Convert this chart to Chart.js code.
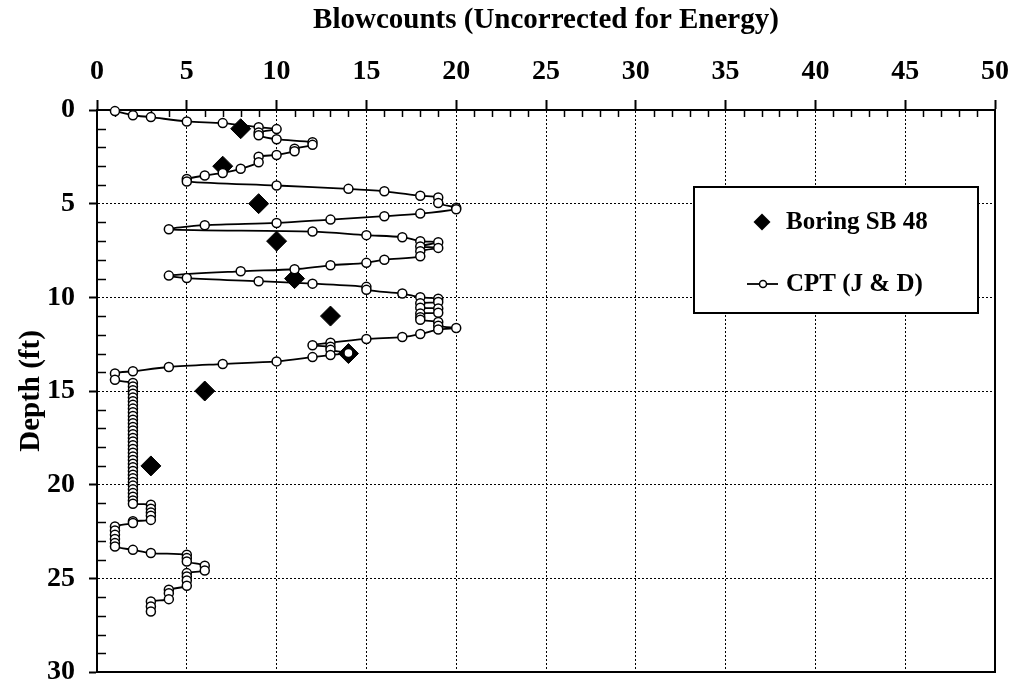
<!DOCTYPE html>
<html>
<head>
<meta charset="utf-8">
<script src="https://cdn.jsdelivr.net/npm/chart.js@4.4.1/dist/chart.umd.min.js"></script>
<style>
  html, body { margin: 0; padding: 0; background: #fff; }
  #c { display: block; }
</style>
</head>
<body>
<canvas id="c" width="1013" height="687" style="width:1013px;height:687px"></canvas>
<script>
// ---------------- DATA ----------------
const xTitle = 'Blowcounts (Uncorrected for Energy)';
const yTitle = 'Depth (ft)';
const boringLabel = 'Boring SB 48';
const cptLabel = 'CPT (J & D)';

const boringBlows = [8, 7, 9, 10, 11, 13, 14, 6, 3];
const boringDepth = [1, 3, 5, 7, 9, 11, 13, 15, 19];

const cptBlows = [
  1, 2, 3, 5, 7, 9, 10, 9, 9, 10,
  12, 12, 11, 11, 10, 9, 9, 8, 7, 6,
  5, 5, 10, 14, 16, 18, 19, 19, 20, 20,
  18, 16, 13, 10, 6, 4, 12, 15, 17, 18,
  19, 18, 19, 18, 18, 16, 15, 13, 11, 8,
  4, 5, 9, 12, 15, 15, 17, 18, 19, 19,
  18, 18, 19, 19, 18, 18, 18, 19, 19, 20,
  19, 18, 17, 15, 13, 12, 13, 13, 14, 13,
  12, 10, 7, 4, 2, 1, 1,
  2, 2, 2, 2, 2, 2, 2, 2, 2, 2,
  2, 2, 2, 2, 2, 2, 2, 2, 2, 2,
  2, 2, 2, 2, 2, 2, 2, 2, 2, 2,
  2, 2, 2, 2,
  3, 3, 3, 3, 3, 2, 2,
  1, 1, 1, 1, 1, 1,
  2, 3, 5, 5, 5, 6, 6,
  5, 5, 5, 5, 4, 4, 4, 3, 3, 3
];
const cptDepth = [
  0.06, 0.28, 0.38, 0.61, 0.70, 0.92, 1.02, 1.20, 1.35, 1.56,
  1.72, 1.86, 2.07, 2.20, 2.40, 2.50, 2.79, 3.14, 3.36, 3.50,
  3.68, 3.82, 4.03, 4.21, 4.34, 4.58, 4.67, 4.96, 5.22, 5.30,
  5.53, 5.67, 5.85, 6.03, 6.15, 6.37, 6.49, 6.68, 6.79, 7.00,
  7.06, 7.28, 7.36, 7.54, 7.81, 7.99, 8.16, 8.29, 8.50, 8.61,
  8.84, 8.97, 9.14, 9.27, 9.44, 9.60, 9.80, 10.00, 10.07, 10.25,
  10.32, 10.55, 10.60, 10.82, 10.86, 11.06, 11.20, 11.32, 11.52, 11.64,
  11.72, 11.96, 12.12, 12.22, 12.42, 12.56, 12.64, 12.80, 12.97, 13.08,
  13.19, 13.42, 13.56, 13.72, 13.95, 14.06, 14.40,
  14.57, 14.76, 14.96, 15.15, 15.35, 15.55, 15.74, 15.94, 16.13, 16.33,
  16.53, 16.72, 16.92, 17.11, 17.31, 17.51, 17.70, 17.90, 18.09, 18.29,
  18.49, 18.68, 18.88, 19.07, 19.27, 19.47, 19.66, 19.86, 20.05, 20.25,
  20.45, 20.64, 20.84, 21.02,
  21.07, 21.28, 21.48, 21.66, 21.88, 21.95, 22.05,
  22.23, 22.45, 22.68, 22.90, 23.12, 23.30,
  23.48, 23.65, 23.74, 23.92, 24.10, 24.33, 24.58,
  24.72, 24.90, 25.12, 25.40, 25.61, 25.79, 26.11, 26.24, 26.50, 26.77
];

const xTicksMin = 0, xTicksMax = 50, xStep = 5;
const yTicksMin = 0, yTicksMax = 30, yStep = 5;

// ---------------- BUILD ----------------
const cptPoints = cptBlows.map((v, i) => ({ x: v, y: cptDepth[i] }));
const boringPoints = boringBlows.map((v, i) => ({ x: v, y: boringDepth[i] }));

const FONT = "'Liberation Serif', 'Times New Roman', serif";

const framePlugin = {
  id: 'frame',
  beforeDatasetsDraw(chart) {
    const { ctx, chartArea: a, scales } = chart;
    ctx.save();
    ctx.strokeStyle = '#000';
    ctx.lineWidth = 2;
    ctx.beginPath();
    ctx.moveTo(a.right, a.top - 1); ctx.lineTo(a.right, a.bottom + 1);
    ctx.moveTo(a.left - 1, a.bottom); ctx.lineTo(a.right + 1, a.bottom);
    ctx.stroke();
    // minor ticks (inside)
    ctx.lineWidth = 1.5;
    ctx.beginPath();
    for (let v = xTicksMin + 1; v < xTicksMax; v++) {
      if (v % xStep === 0) continue;
      const px = Math.round(scales.x.getPixelForValue(v)) + 0.5;
      ctx.moveTo(px, a.top); ctx.lineTo(px, a.top + 7);
    }
    for (let v = yTicksMin + 1; v < yTicksMax; v++) {
      if (v % yStep === 0) continue;
      const py = Math.round(scales.y.getPixelForValue(v)) + 0.5;
      ctx.moveTo(a.left, py); ctx.lineTo(a.left + 9, py);
    }
    ctx.stroke();
    ctx.restore();
  }
};

const legendPlugin = {
  id: 'customLegend',
  afterDraw(chart) {
    const { ctx } = chart;
    const bx = 694, by = 187, bw = 284, bh = 126;
    ctx.save();
    ctx.fillStyle = '#fff';
    ctx.fillRect(bx, by, bw, bh);
    ctx.strokeStyle = '#000';
    ctx.lineWidth = 2;
    ctx.strokeRect(bx, by, bw, bh);

    const dsB = chart.data.datasets[1];
    const dsC = chart.data.datasets[0];
    ctx.font = "bold 25px " + FONT;
    ctx.fillStyle = '#000';
    ctx.textBaseline = 'middle';
    ctx.textAlign = 'left';

    // Boring entry
    const y1 = 222, mx = 762;
    const r = 8.5;
    ctx.beginPath();
    ctx.moveTo(mx - r, y1); ctx.lineTo(mx, y1 - r); ctx.lineTo(mx + r, y1); ctx.lineTo(mx, y1 + r);
    ctx.closePath();
    ctx.fillStyle = '#000';
    ctx.fill();
    ctx.fillText(dsB.label, 786, y1 + 1);

    // CPT entry
    const y2 = 284;
    ctx.beginPath();
    ctx.lineWidth = 1.8;
    ctx.moveTo(747, y2); ctx.lineTo(778, y2);
    ctx.stroke();
    ctx.beginPath();
    ctx.arc(763, y2, 3.5, 0, Math.PI * 2);
    ctx.fillStyle = '#fff';
    ctx.fill();
    ctx.lineWidth = 1.5;
    ctx.stroke();
    ctx.fillStyle = '#000';
    ctx.fillText(dsC.label, 786, y2 + 1);
    ctx.restore();
  }
};

new Chart(document.getElementById('c').getContext('2d'), {
  type: 'scatter',
  data: {
    datasets: [
      {
        label: cptLabel,
        data: cptPoints,
        showLine: true,
        borderColor: '#000',
        borderWidth: 1.8,
        tension: 0.3,
        pointRadius: 4.5,
        pointBackgroundColor: '#fff',
        pointBorderColor: '#000',
        pointBorderWidth: 1.5,
        order: 0,
        clip: false
      },
      {
        label: boringLabel,
        data: boringPoints,
        showLine: false,
        pointStyle: 'rectRot',
        pointRadius: 10,
        pointBackgroundColor: '#000',
        pointBorderColor: '#000',
        pointBorderWidth: 1,
        order: 1,
        clip: false
      }
    ]
  },
  options: {
    responsive: false,
    animation: false,
    devicePixelRatio: 1,
    layout: { padding: { left: 0, top: 0, right: 18, bottom: 15 } },
    plugins: { legend: { display: false }, tooltip: { enabled: false } },
    scales: {
      x: {
        type: 'linear',
        position: 'top',
        min: xTicksMin, max: xTicksMax,
        ticks: { stepSize: xStep, color: '#000', padding: 11,
                 font: { family: FONT, weight: 'bold', size: 28 } },
        grid: { color: '#000', lineWidth: 1, tickLength: 10, tickWidth: 2, tickColor: '#000' },
        border: { display: true, color: '#000', width: 2, dash: [2, 2] },
        title: { display: true, text: xTitle, color: '#000', padding: { top: 3, bottom: 0 },
                 font: { family: FONT, weight: 'bold', size: 29 } },
        afterFit(s) { s.height = 110; s.paddingLeft = 0; s.paddingRight = 0; }
      },
      y: {
        type: 'linear',
        reverse: true,
        min: yTicksMin, max: yTicksMax,
        ticks: { stepSize: yStep, color: '#000', padding: 14,
                 font: { family: FONT, weight: 'bold', size: 28 } },
        grid: { color: '#000', lineWidth: 1, tickLength: 8, tickWidth: 2, tickColor: '#000' },
        border: { display: true, color: '#000', width: 2, dash: [2, 2] },
        title: { display: true, text: yTitle, color: '#000', padding: { top: 14, bottom: 0 },
                 font: { family: FONT, weight: 'bold', size: 29 } },
        afterFit(s) { s.width = 97; s.paddingTop = 0; s.paddingBottom = 0; }
      }
    }
  },
  plugins: [framePlugin, legendPlugin]
});
</script>
</body>
</html>
